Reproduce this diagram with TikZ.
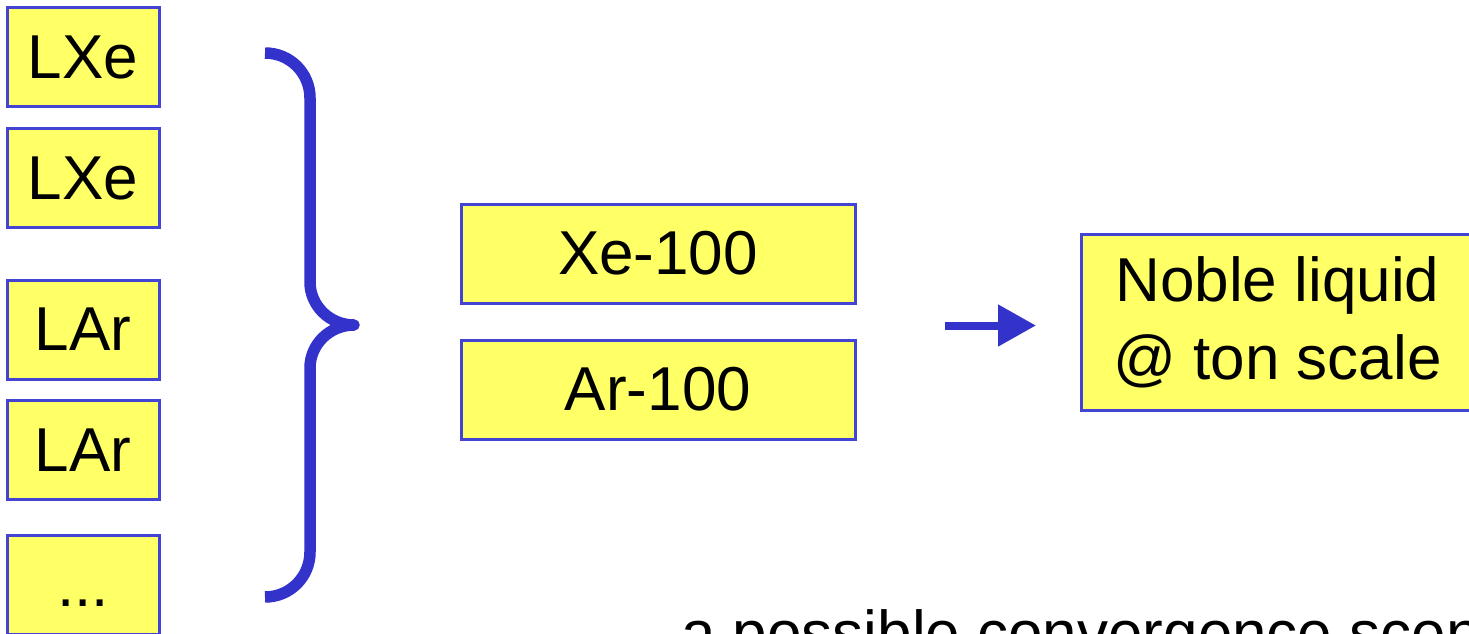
\documentclass[tikz,border=0pt]{standalone}
\usepackage{fontspec}
\setmainfont{Liberation Sans}
\usetikzlibrary{arrows.meta}

\definecolor{boxfill}{HTML}{FFFF66}
\definecolor{boxline}{HTML}{4444D4}
\definecolor{bracecol}{HTML}{3333CC}

\tikzset{
  every node/.style={font=\fontsize{62}{78}\selectfont},
  ybox/.style={draw=boxline, fill=boxfill, line width=3pt, rectangle,
               inner sep=0pt, align=center},
  smallbox/.style={ybox, minimum width=152pt, minimum height=99pt},
  midbox/.style={ybox, minimum width=394pt, minimum height=99pt},
  bigbox/.style={ybox, minimum width=393pt, minimum height=176pt},
  bracestroke/.style={draw=bracecol, line width=11.5pt, line join=round, line cap=butt},
  flowarrow/.style={draw=bracecol, line width=8pt,
                    -{Triangle[length=38pt,width=40pt]}}
}

\begin{document}
\begin{tikzpicture}[x=1pt,y=-1pt]
  \useasboundingbox (0,0) rectangle (1469,633);

  % stack of detector boxes on the left
  \node[smallbox] (lxe1) at (83,57)    {LXe};
  \node[smallbox] (lxe2) at (83,178)   {LXe};
  \node[smallbox] (lar1) at (83,329.5) {LAr};
  \node[smallbox] (lar2) at (83,450)   {LAr};
  \node[smallbox] (more) at (83,585)   {\vphantom{L}...};

  % curly brace grouping them
  \coordinate (btop) at (265,53);
  \coordinate (btip) at (354,325);
  \coordinate (bbot) at (265,597);
  \draw[bracestroke]
    (btop) .. controls (290,53) and (310,73) .. (310,98)
    -- (310,282)
    .. controls (310,306) and (330,325) .. (btip)
    .. controls (330,325) and (310,344) .. (310,368)
    -- (310,552)
    .. controls (310,577) and (290,597) .. (bbot);

  % 100 kg scale stages
  \node[midbox] (xe100) at (658,253.5) {Xe-100};
  \node[midbox] (ar100) at (658,389.5) {Ar-100};

  % ton scale
  \node[bigbox] (ton) at (1277.5,322) {Noble liquid\\@ ton scale};

  \coordinate (astart) at (945,325.5);
  \coordinate (aend) at (1036,325.5);
  \draw[flowarrow] (astart) -- (aend);

  \node[anchor=base west, inner sep=0pt] (caption) at (681,654)
    {a possible convergence scenario};
\end{tikzpicture}
\end{document}
